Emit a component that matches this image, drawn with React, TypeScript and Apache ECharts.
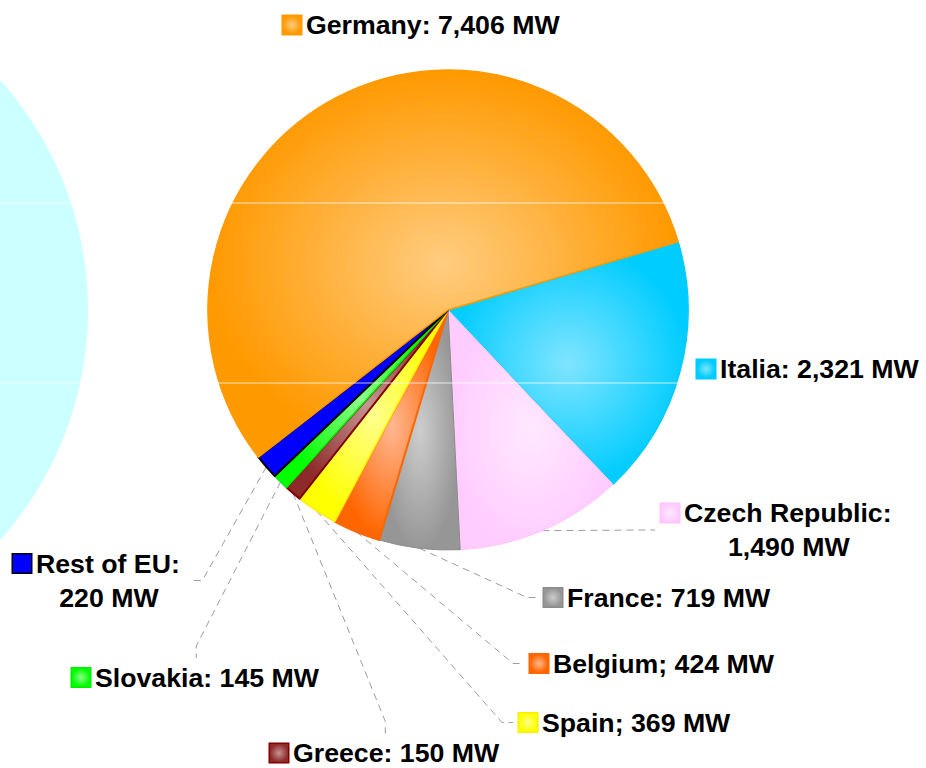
import React, { useEffect, useRef } from 'react';
import * as echarts from 'echarts';

// ---- data ----
const countries = ['Italia', 'Czech Republic', 'France', 'Belgium', 'Spain', 'Greece', 'Slovakia', 'Rest of EU', 'Germany'];
const capacityMW = [2321, 1490, 719, 424, 369, 150, 145, 220, 7406];
const separators = [':', ':', ':', ';', ';', ':', ':', ':', ':'];
const wrapValue = [false, true, false, false, false, false, false, true, false];
const unit = 'MW';

// ---- styles ----
const edgeColors = ['#00CCFF', '#FFCCFF', '#969696', '#FF6600', '#FFFF00', '#8E2A2A', '#00FF00', '#0000FF', '#FF9900'];
const centerColors = ['#80E4FF', '#FFE8FF', '#CDCDCD', '#FFB894', '#FFFF8C', '#C79494', '#8CFF8C', '#0000FF', '#FFCC80'];
const borderColors = ['#00CCFF', '#FFC4FF', '#8C8C8C', '#FF6600', '#FFEE00', '#800000', '#00EE00', '#000000', '#FF9900'];
const borderWidths = [1.5, 1, 1, 2, 1.5, 2, 1.5, 2, 1.5];

// ---- label layout: [left x, middle y, guide side] ----
const labelPlaces: [number, number, string][] = [
  [697, 369, 'none'],
  [661, 530, 'left'],
  [544, 597.5, 'left'],
  [530, 663.5, 'left'],
  [519, 722.5, 'left'],
  [270, 753, 'top'],
  [72, 677.5, 'top'],
  [13, 580.5, 'right'],
  [283, 25, 'none'],
];

const radial = (c0: string, c1: string) => ({
  type: 'radial', x: 0.5, y: 0.5, r: 0.5,
  colorStops: [{ offset: 0, color: c0 }, { offset: 1, color: c1 }],
});

export default function App() {
  const ref = useRef<HTMLDivElement>(null);
  useEffect(() => {
    if (!ref.current) return;
    const chart = echarts.init(ref.current, null, { renderer: 'svg' });

    const rich: any = {
      t: {
        fontSize: 26.7, fontWeight: 'bold', fontFamily: 'Liberation Sans, Arial, sans-serif',
        color: '#000', lineHeight: 34, align: 'center',
      },
      g: { width: 5, align: 'center' },
      sp: { width: 25, align: 'center' },
    };
    countries.forEach((_, i) => {
      rich['ic' + i] = {
        width: 18, height: 18, align: 'center',
        backgroundColor: radial(centerColors[i], edgeColors[i]),
        borderColor: borderColors[i], borderWidth: 1.5,
      };
    });

    const data = countries.map((name, i) => ({
      name,
      value: capacityMW[i],
      itemStyle: {
        color: radial(centerColors[i], edgeColors[i]),
        borderColor: borderColors[i],
        borderWidth: borderWidths[i],
      },
      labelLine: { show: labelPlaces[i][2] !== 'none' },
    }));

    chart.setOption({
      animation: false,
      backgroundColor: '#FFFFFF',
      graphic: [
        { type: 'circle', silent: true, z: -1, shape: { cx: -257, cy: 310, r: 345 }, style: { fill: '#CCFFFF' } },
        { type: 'line', silent: true, z: 100, shape: { x1: 0, y1: 203, x2: 926, y2: 203 }, style: { stroke: 'rgba(255,255,255,0.75)', lineWidth: 1 } },
        { type: 'line', silent: true, z: 100, shape: { x1: 0, y1: 383, x2: 926, y2: 383 }, style: { stroke: 'rgba(255,255,255,0.75)', lineWidth: 1 } },
      ],
      series: [
        {
          type: 'pie',
          center: [448, 310],
          radius: 240,
          startAngle: 16.5,
          clockwise: true,
          avoidLabelOverlap: false,
          minShowLabelAngle: 0,
          emphasis: { disabled: true },
          data,
          label: {
            show: true,
            position: 'outside',
            formatter: (p: any) => {
              const i = p.dataIndex;
              const val = `${capacityMW[i].toLocaleString('en-US')} ${unit}`;
              const head = `{ic${i}|}{g|}`;
              return wrapValue[i]
                ? `${head}{t|${countries[i]}${separators[i]}}\n{sp|}{t|${val}}`
                : `${head}{t|${countries[i]}${separators[i]} ${val}}`;
            },
            rich,
          },
          labelLine: {
            show: true,
            length: 10,
            length2: 10,
            lineStyle: { color: '#9C9C9C', width: 1, type: [7, 5] },
          },
          labelLayout: (p: any) => {
            const [lx, ly, side] = labelPlaces[p.dataIndex];
            const w = p.labelRect.width;
            const h = p.labelRect.height;
            const out: any = { x: lx, y: ly, align: 'left', verticalAlign: 'middle' };
            const start = p.labelLinePoints ? p.labelLinePoints[0] : null;
            if (start && side !== 'none') {
              let end: number[];
              let bend: number[];
              if (side === 'left') {
                end = [lx - 6, ly];
                bend = [lx - 17, ly];
              } else if (side === 'right') {
                end = [lx + w + 8, ly];
                bend = [lx + w + 21, ly];
              } else {
                const cx = lx + w / 2;
                end = [cx, ly - h / 2 - 6];
                bend = [cx, ly - h / 2 - 18];
              }
              out.labelLinePoints = [start, bend, end];
            }
            return out;
          },
        },
      ],
    });
    return () => chart.dispose();
  }, []);
  return <div ref={ref} style={{ position: 'absolute', left: 0, top: 0, width: 926, height: 768 }} />;
}
